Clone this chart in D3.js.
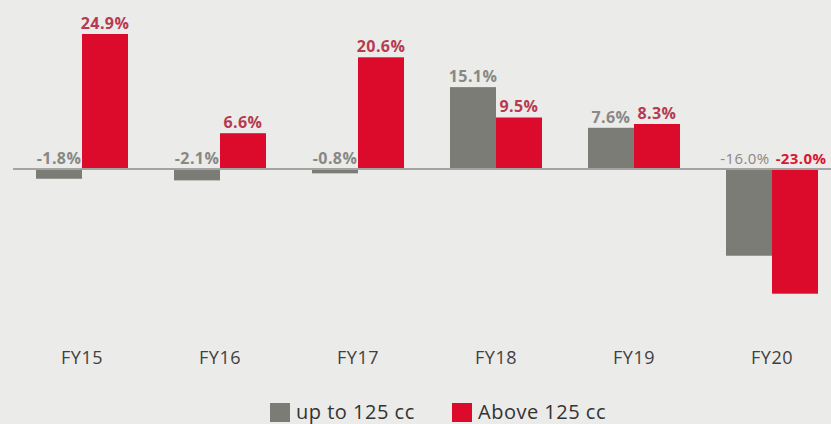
<!DOCTYPE html>
<html>
<head>
<meta charset="utf-8">
<script src="https://cdn.jsdelivr.net/npm/d3@7"></script>
<style>
  body { margin: 0; background: #ebebe9; }
  svg { display: block; font-family: "Open Sans", sans-serif; }
</style>
</head>
<body>
<div id="chart"></div>
<script>
const years = ["FY15", "FY16", "FY17", "FY18", "FY19", "FY20"];
const upTo125 = [-1.8, -2.1, -0.8, 15.1, 7.6, -16.0];
const above125 = [24.9, 6.6, 20.6, 9.5, 8.3, -23.0];
const seriesNames = ["up to 125 cc", "Above 125 cc"];

const width = 831, height = 424;
const grey = "#7c7c77", red = "#dc0b2c";

const svg = d3.select("#chart").append("svg")
  .attr("width", width)
  .attr("height", height);

const x = d3.scaleBand()
  .domain(years)
  .range([13, 841])
  .paddingInner(1 / 3)
  .paddingOuter(1 / 6);

const sub = d3.scaleBand()
  .domain([0, 1])
  .range([0, x.bandwidth()]);

const y = d3.scaleLinear()
  .domain([-23, 24.9])
  .range([293.7, 34]);

const rows = years.map((yr, i) => ({ yr, vals: [upTo125[i], above125[i]] }));

const groups = svg.selectAll("g.grp")
  .data(rows)
  .enter()
  .append("g")
  .attr("class", "grp")
  .attr("transform", (d) => `translate(${x(d.yr)},0)`);

groups.selectAll("rect")
  .data((d) => d.vals.map((v, k) => ({ v, k })))
  .enter()
  .append("rect")
  .attr("x", (d) => sub(d.k))
  .attr("width", sub.bandwidth())
  .attr("y", (d) => y(Math.max(0, d.v)))
  .attr("height", (d) => Math.abs(y(d.v) - y(0)))
  .style("fill", (d) => (d.k === 0 ? grey : red));

// zero line
svg.append("line")
  .attr("x1", 13)
  .attr("x2", width)
  .attr("y1", y(0))
  .attr("y2", y(0))
  .style("stroke", "#a3a3a1")
  .style("stroke-width", 2);

groups.selectAll("text.val")
  .data((d) => d.vals.map((v, k) => ({ v, k, last: d.yr === "FY20" })))
  .enter()
  .append("text")
  .attr("class", "val")
  .attr("text-anchor", "middle")
  .attr("x", (d) => sub(d.k) + sub.bandwidth() / 2 + (d.last ? (d.k === 0 ? -4 : 6) : 0))
  .attr("y", (d) => y(Math.max(0, d.v)) - 5)
  .style("font-size", (d) => (d.last ? "15px" : "16px"))
  .style("letter-spacing", "0.4px")
  .style("font-weight", (d) => (d.last && d.k === 0 ? "normal" : "bold"))
  .style("fill", (d) => (d.k === 0 ? "#888886" : d.last ? "#d81733" : "#b73a50"))
  .text((d) => d.v.toFixed(1) + "%");

// category axis
const xAxis = svg.append("g")
  .attr("transform", "translate(0,364)")
  .call(d3.axisBottom(x).tickSize(0).tickPadding(0));
xAxis.select(".domain").remove();
xAxis.selectAll("text")
  .attr("dy", 0)
  .style("font-family", "Open Sans, sans-serif")
  .style("font-size", "18px")
  .style("letter-spacing", "0.5px")
  .style("fill", "#404040");

// legend
const legend = svg.append("g").attr("transform", "translate(270,403)");
const items = legend.selectAll("g")
  .data(seriesNames)
  .enter()
  .append("g")
  .attr("transform", (d, i) => `translate(${i * 182},0)`);
items.append("rect")
  .attr("width", 20)
  .attr("height", 19)
  .style("fill", (d, i) => (i === 0 ? grey : red));
items.append("text")
  .attr("x", 26)
  .attr("y", 16)
  .style("font-size", "20px")
  .style("letter-spacing", "0.5px")
  .style("fill", "#333")
  .text((d) => d);
</script>
</body>
</html>
